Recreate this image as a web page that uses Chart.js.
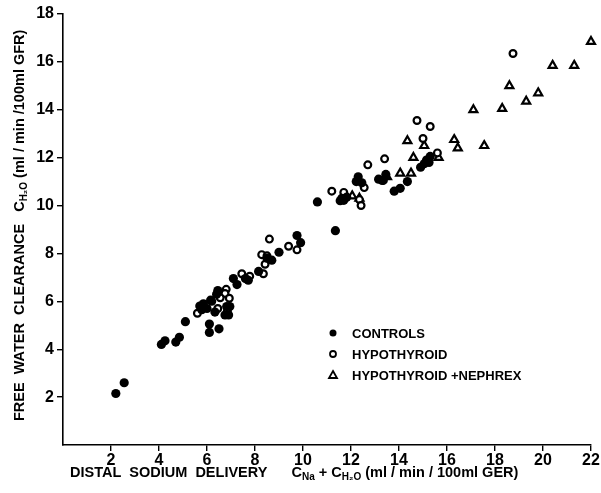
<!DOCTYPE html>
<html>
<head>
<meta charset="utf-8">
<script src="https://cdn.jsdelivr.net/npm/chart.js@4/dist/chart.umd.min.js"></script>
<style>
  html, body { margin: 0; padding: 0; background: #fff; }
  #wrap { width: 601px; height: 493px; position: relative; }
</style>
</head>
<body>
<div id="wrap"><canvas id="c" width="601" height="493"></canvas></div>
<script>
// ---- Data ----
const xTicks = [2, 4, 6, 8, 10, 12, 14, 16, 18, 20, 22];
const yTicks = [2, 4, 6, 8, 10, 12, 14, 16, 18];

const controlsX = [2.2, 2.55, 4.1, 4.25, 4.7, 4.85, 5.1, 5.7, 5.85, 6.0, 5.78, 6.1, 6.1, 6.5, 6.33, 6.15, 6.45, 6.4, 6.82, 6.95, 6.75, 6.9, 7.25, 7.1, 7.6, 7.72, 8.15, 8.5, 8.7, 9.0, 9.75, 9.9, 10.6, 11.35, 11.55, 11.62, 11.7, 11.82, 12.3, 12.22, 12.45, 13.15, 13.3, 13.45, 13.8, 14.05, 14.35, 14.9, 15.05, 15.15, 15.3, 15.25];
const controlsY = [2.15, 2.6, 4.2, 4.35, 4.3, 4.5, 5.15, 5.8, 5.9, 5.7, 5.65, 5.05, 4.7, 4.85, 5.55, 6.05, 6.45, 6.3, 5.78, 5.78, 5.43, 5.43, 6.7, 6.95, 6.95, 6.88, 7.25, 7.8, 7.72, 8.05, 8.75, 8.45, 10.15, 8.95, 10.2, 10.3, 10.22, 10.35, 11.2, 11.0, 10.95, 11.1, 11.05, 11.3, 10.6, 10.72, 11.0, 11.6, 11.75, 11.9, 12.05, 11.8];

const hypoX = [5.6, 6.2, 6.45, 6.85, 6.8, 6.75, 6.93, 6.55, 7.45, 7.78, 8.28, 8.42, 8.35, 8.5, 8.6, 9.4, 9.75, 11.2, 11.7, 12.35, 12.42, 12.55, 12.7, 13.4, 13.35, 14.75, 15.3, 15.0, 15.6, 18.75];
const hypoY = [5.5, 6.0, 5.7, 5.6, 6.5, 6.33, 6.13, 6.15, 7.15, 7.05, 7.95, 7.55, 7.15, 7.9, 8.6, 8.3, 8.15, 10.6, 10.55, 10.25, 10.0, 10.75, 11.7, 11.95, 11.05, 13.55, 13.3, 12.8, 12.2, 16.35];

const nephX = [12.05, 12.35, 13.5, 14.05, 14.5, 14.6, 14.35, 15.05, 15.65, 16.3, 16.45, 17.55, 17.1, 18.3, 18.6, 19.3, 19.8, 20.4, 21.3, 22.0];
const nephY = [10.4, 10.3, 11.2, 11.35, 11.35, 12.0, 12.7, 12.5, 12.0, 12.75, 12.4, 12.5, 14.0, 14.05, 15.0, 14.35, 14.7, 15.85, 15.85, 16.85];

const seriesNames = ['CONTROLS', 'HYPOTHYROID', 'HYPOTHYROID +NEPHREX'];

function pts(xs, ys) { return xs.map((x, i) => ({ x: x, y: ys[i] })); }

const FONT = '"Liberation Sans", Arial, Helvetica, sans-serif';

// draw text segments with subscripts; returns total width
function drawRich(ctx, parts, x, y, size) {
  let cx = x;
  for (const p of parts) {
    const s = p.sub ? Math.round(size * 0.68) : size;
    ctx.font = 'bold ' + s + 'px ' + FONT;
    const dy = p.sub ? size * 0.3 : 0;
    ctx.fillText(p.t, cx, y + dy);
    cx += ctx.measureText(p.t).width;
  }
  return cx - x;
}

const titlesPlugin = {
  id: 'titles',
  afterDraw(chart) {
    const ctx = chart.ctx;
    ctx.save();
    ctx.fillStyle = '#000';
    ctx.textBaseline = 'middle';
    ctx.textAlign = 'left';
    // X title
    const xParts = [
      { t: 'DISTAL  SODIUM  DELIVERY      C' }, { t: 'Na', sub: true },
      { t: ' + C' }, { t: 'H\u2082O', sub: true }, { t: ' (ml / min / 100ml GER)' }
    ];
    drawRich(ctx, xParts, 70, 473, 14.5);
    // Y title (rotated)
    const yParts = [
      { t: 'FREE  WATER  CLEARANCE   C' }, { t: 'H\u2082O', sub: true },
      { t: ' (ml / min /100ml GFR)' }
    ];
    ctx.translate(20, 421);
    ctx.rotate(-Math.PI / 2);
    drawRich(ctx, yParts, 0, 0, 14.5);
    ctx.restore();

    // Legend
    ctx.save();
    ctx.fillStyle = '#000';
    ctx.strokeStyle = '#000';
    ctx.textBaseline = 'middle';
    ctx.font = 'bold 13px ' + FONT;
    const lx = 333, ly = [333, 354, 375];
    ctx.beginPath(); ctx.arc(lx, ly[0], 3.5, 0, Math.PI * 2); ctx.fill();
    ctx.lineWidth = 1.8;
    ctx.beginPath(); ctx.arc(lx, ly[1], 3, 0, Math.PI * 2); ctx.stroke();
    ctx.beginPath();
    ctx.moveTo(lx, ly[2] - 4); ctx.lineTo(lx + 4, ly[2] + 3); ctx.lineTo(lx - 4, ly[2] + 3); ctx.closePath();
    ctx.stroke();
    for (let i = 0; i < 3; i++) ctx.fillText(seriesNames[i], 352, ly[i] + 1);
    ctx.restore();
  }
};

new Chart(document.getElementById('c'), {
  type: 'scatter',
  data: {
    datasets: [
      { label: seriesNames[0], data: pts(controlsX, controlsY), pointStyle: 'circle', pointRadius: 4.6,
        backgroundColor: '#000', borderColor: '#000', borderWidth: 0, clip: false },
      { label: seriesNames[1], data: pts(hypoX, hypoY), pointStyle: 'circle', pointRadius: 3.4,
        backgroundColor: '#fff', borderColor: '#000', borderWidth: 2.2, clip: false },
      { label: seriesNames[2], data: pts(nephX, nephY), pointStyle: 'triangle', pointRadius: 4.6,
        backgroundColor: '#fff', borderColor: '#000', borderWidth: 2.2, clip: false }
    ]
  },
  options: {
    responsive: false,
    animation: false,
    devicePixelRatio: 1,
    layout: { padding: { top: 14, right: 10, left: 0, bottom: 0 } },
    plugins: { legend: { display: false }, tooltip: { enabled: false } },
    scales: {
      x: {
        type: 'linear', min: 0, max: 22,
        afterBuildTicks(s) { s.ticks = xTicks.map(v => ({ value: v })); },
        afterFit(s) { s.height = 48; },
        border: { display: true, color: '#000', width: 1.6 },
        grid: { drawOnChartArea: false, color: '#000', tickLength: 6, lineWidth: 1.4 },
        ticks: { color: '#000', padding: 0, maxRotation: 0, font: { family: FONT, size: 16, weight: 'bold' } },
        title: { display: false }
      },
      y: {
        type: 'linear', min: 0, max: 18,
        afterBuildTicks(s) { s.ticks = yTicks.map(v => ({ value: v })); },
        afterFit(s) { s.width = 63; },
        border: { display: true, color: '#000', width: 1.6 },
        grid: { drawOnChartArea: false, color: '#000', tickLength: 6, lineWidth: 1.4 },
        ticks: { color: '#000', padding: 3, font: { family: FONT, size: 16, weight: 'bold' } },
        title: { display: false }
      }
    }
  },
  plugins: [titlesPlugin]
});
</script>
</body>
</html>
